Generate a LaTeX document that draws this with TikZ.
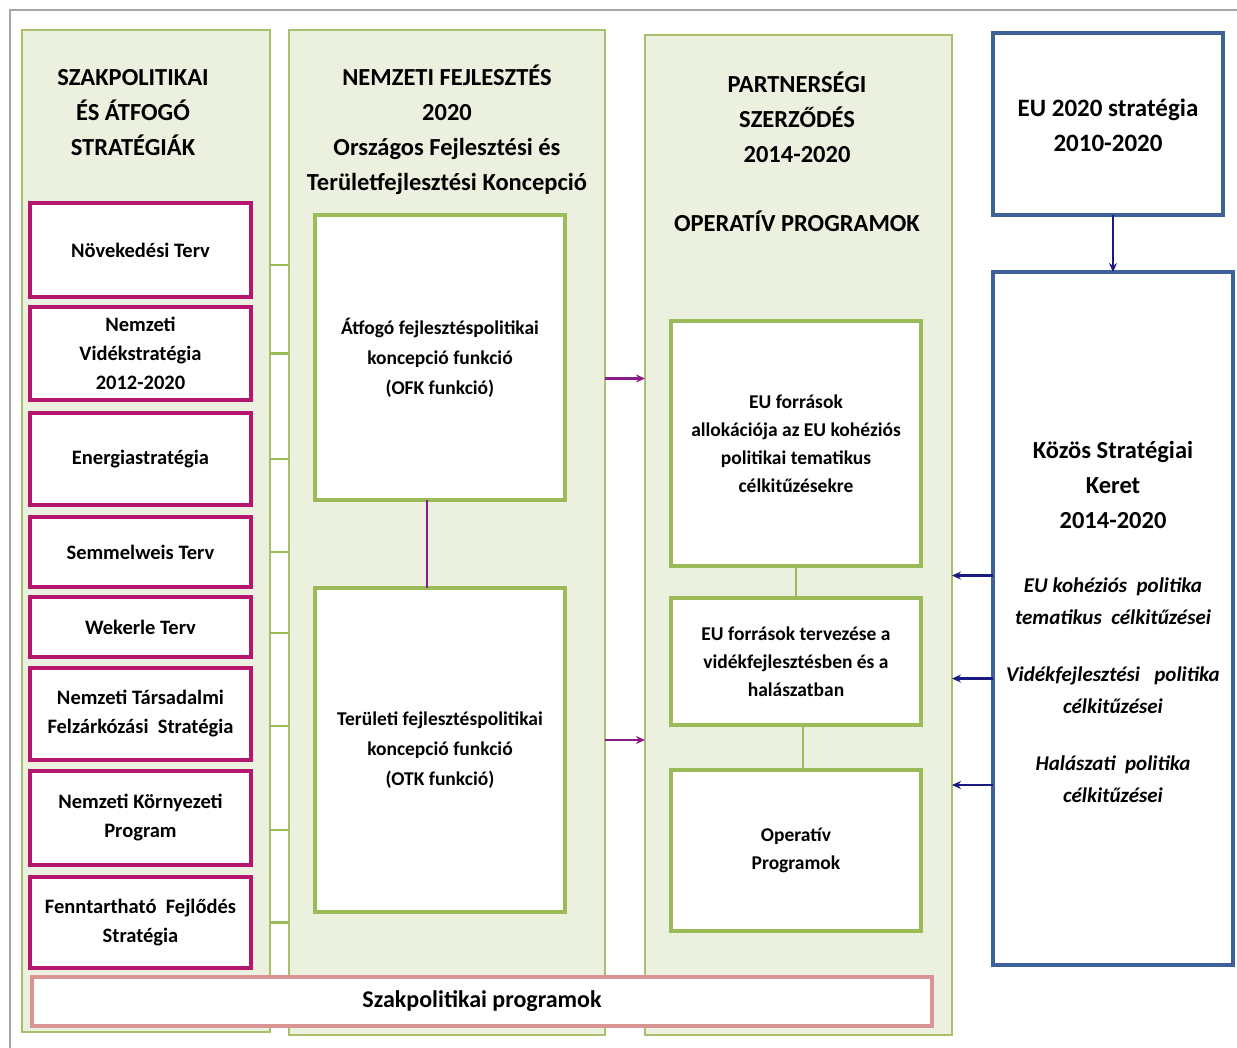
\documentclass[tikz,border=0pt]{standalone}
\usepackage{fontspec}
\setmainfont{Carlito}
\usetikzlibrary{arrows.meta,positioning}

\definecolor{panelfill}{HTML}{EBF1DE}
\definecolor{panelline}{HTML}{A9BF6E}
\definecolor{innerline}{HTML}{9BBB59}
\definecolor{stratline}{HTML}{B5176F}
\definecolor{eubox}{HTML}{3D6198}
\definecolor{navy}{HTML}{1A1A80}
\definecolor{purpl}{HTML}{8B1A8B}
\definecolor{rose}{HTML}{D99594}

\begin{document}
\begin{tikzpicture}[x=1pt,y=-1pt,>={Stealth[length=9pt,width=8pt]},
        every node/.style={font=\bfseries,align=center,inner sep=2pt,outer sep=0pt},
        panel/.style={draw=panelline,fill=panelfill,line width=1.4pt,anchor=north west},
        innerbox/.style={draw=innerline,fill=white,line width=3.6pt,anchor=north west,
          minimum width=250pt,font=\bfseries\fontsize{19.5}{30}\selectfont},
        stratbox/.style={draw=stratline,fill=white,line width=4pt,anchor=north west,
          minimum width=221pt,font=\bfseries\fontsize{20.5}{29}\selectfont},
        eubox/.style={draw=eubox,fill=white,line width=3.6pt,anchor=north west},
        title/.style={font=\bfseries\fontsize{24.5}{35}\selectfont},
        italtext/.style={font=\bfseries\itshape\fontsize{21}{32}\selectfont},
        greenlink/.style={draw=innerline,line width=2.4pt},
        purplink/.style={draw=purpl,line width=2.2pt,->},
        navylink/.style={draw=navy,line width=2.2pt,->}]
        \useasboundingbox (0,0) rectangle (1237,1047);
        \draw[gray!70,line width=2pt] (10,1060) -- (10,10) -- (1250,10);

        % columns
        \node[panel,minimum width=248pt,minimum height=1002pt] (strat) at (22,30) {};
        \node[panel,minimum width=316pt,minimum height=1005pt] (nfk) at (289,30) {};
        \node[panel,minimum width=307pt,minimum height=1000pt] (psz) at (645,35) {};
        \node[eubox,minimum width=230pt,minimum height=182pt] (eu) at (993,33) {};
        \node[eubox,minimum width=240pt,minimum height=693pt] (kst) at (993,272) {};

        % titles
        \node[title] (stratT) at (133,113) {SZAKPOLITIKAI\\ÉS ÁTFOGÓ\\STRATÉGIÁK};
        \node[title] (nfkT) at (447,130) {NEMZETI FEJLESZTÉS\\2020\\
          Országos Fejlesztési és\\Területfejlesztési Koncepció};
        \node[title] (pszT) at (797,117) {PARTNERSÉGI\\SZERZŐDÉS\\2014-2020};
        \node[title] (opT) at (797,221) {OPERATÍV PROGRAMOK};
        \node[title,font=\bfseries\fontsize{25}{35}\selectfont] (euT) at (1108,125) {EU 2020 stratégia\\2010-2020};
        \node[title,font=\bfseries\fontsize{24.5}{35}\selectfont] (kstT) at (1113,485) {Közös Stratégiai\\Keret\\2014-2020};
        \node[italtext] (cel1) at (1113,601) {EU kohéziós\ \ politika\\tematikus\ \ célkitűzései};
        \node[italtext] (cel2) at (1113,690) {Vidékfejlesztési\ \ \ politika\\célkitűzései};
        \node[italtext] (cel3) at (1113,779) {Halászati\ \ politika\\célkitűzései};

        % strategies
        \node[stratbox,minimum height=94pt] (nt) at (30,203) {Növekedési Terv};
        \node[stratbox,minimum height=93pt] (nv) at (30,307) {Nemzeti\\Vidékstratégia\\2012-2020};
        \node[stratbox,minimum height=92pt] (es) at (30,413) {Energiastratégia};
        \node[stratbox,minimum height=70pt] (st) at (30,517) {Semmelweis Terv};
        \node[stratbox,minimum height=60pt] (wt) at (30,597) {Wekerle Terv};
        \node[stratbox,minimum height=92pt] (ntf) at (30,668) {Nemzeti Társadalmi\\Felzárkózási\ \ Stratégia};
        \node[stratbox,minimum height=94pt] (nkp) at (30,771) {Nemzeti Környezeti\\Program};
        \node[stratbox,minimum height=91pt] (ffs) at (30,877) {Fenntartható\ \ Fejlődés\\Stratégia};

        % inner boxes
        \node[innerbox,minimum height=285pt] (atf) at (315,215) {Átfogó fejlesztéspolitikai\\koncepció funkció\\(OFK funkció)};
        \node[innerbox,minimum height=324pt] (ter) at (315,588) {Területi fejlesztéspolitikai\\koncepció funkció\\(OTK funkció)};
        \node[innerbox,minimum height=245pt,font=\bfseries\fontsize{19.5}{28}\selectfont] (alloc) at (671,321) {EU források\\allokációja az EU kohéziós\\politikai tematikus\\célkitűzésekre};
        \node[innerbox,minimum height=127pt,font=\bfseries\fontsize{19.5}{28}\selectfont] (terv) at (671,598) {EU források tervezése a\\vidékfejlesztésben és a\\halászatban};
        \node[innerbox,minimum height=161pt,font=\bfseries\fontsize{19.5}{28}\selectfont] (op) at (671,770) {Operatív\\Programok};

        \node[draw=rose,fill=white,line width=3.4pt,anchor=north west,minimum width=900pt,
          minimum height=49pt,font=\bfseries\fontsize{24}{28}\selectfont] (szp) at (32,977) {Szakpolitikai programok};

        % links
        \foreach \s/\d in {nt/-15,nv/0,es/0,st/0,wt/-6,ntf/-12,nkp/-12,ffs/0}
          \draw[greenlink] ([yshift=\d pt]\s.east -| strat.east) -- ([yshift=\d pt]\s.east -| nfk.west);
        \draw[draw=purpl,line width=2.4pt] ([xshift=-13pt]atf.south) -- ([xshift=-13pt]atf.south |- ter.north);
        \draw[greenlink,line width=1.6pt] (alloc.south) -- (alloc.south |- terv.north);
        \draw[greenlink,line width=1.6pt] ([xshift=7pt]terv.south) -- ([xshift=7pt]terv.south |- op.north);
        \draw[purplink] ([yshift=-21pt]atf.east -| nfk.east) -- ([yshift=-21pt]atf.east -| psz.west);
        \draw[purplink] ([yshift=10pt]ter.east -| nfk.east) -- ([yshift=10pt]ter.east -| psz.west);
        \draw[navylink] ([xshift=5pt]eu.south) -- ([xshift=5pt]eu.south |- kst.north);
        \draw[navylink] (cel1.north -| kst.west) -- (cel1.north -| psz.east);
        \draw[navylink] ([yshift=-14pt]cel2.north -| kst.west) -- ([yshift=-14pt]cel2.north -| psz.east);
        \draw[navylink] ([yshift=-6pt]cel3.west -| kst.west) -- ([yshift=-6pt]cel3.west -| psz.east);
\end{tikzpicture}
\end{document}
